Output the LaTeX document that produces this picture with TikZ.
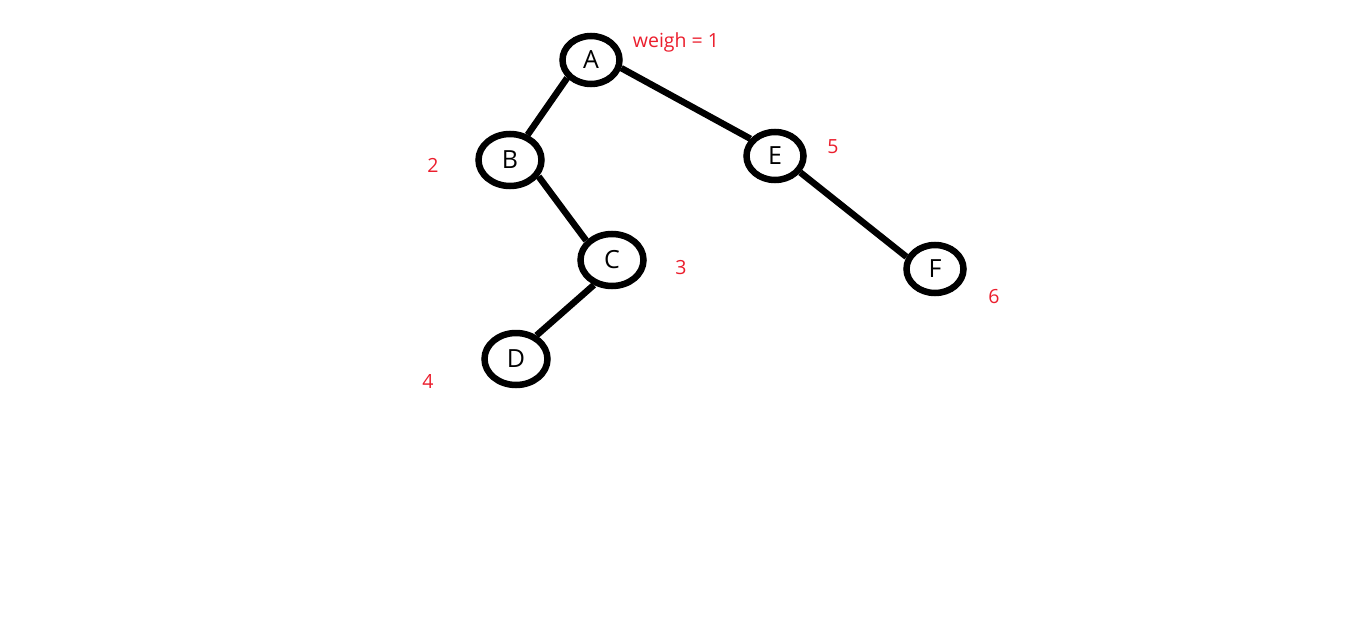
\documentclass[tikz,border=0pt]{standalone}
\usepackage{fontspec}
\setmainfont{Open Sans}
\usetikzlibrary{shapes.geometric}
\definecolor{lblred}{RGB}{235,30,45}
\tikzset{
  vert/.style={ellipse, draw=black, line width=6.5pt, fill=white, minimum width=57pt, minimum height=48pt, inner sep=0pt, font=\fontsize{25}{25}\selectfont},
  wide/.style={minimum width=63pt, minimum height=52pt},
  wlabel/.style={text=lblred, font=\fontsize{19.5}{19.5}\selectfont, inner sep=0pt},
  edge/.style={line width=6.5pt, draw=black}
}
\newcommand{\lowtext}[1]{\raisebox{-2pt}{#1}}
\begin{document}
\begin{tikzpicture}[x=1pt,y=-1pt]
\useasboundingbox (0,0) rectangle (1350,629);
\node[vert] (A) at (591,60) {\lowtext{A}};
\node[vert,wide] (B) at (510,160) {\lowtext{B}};
\node[vert,wide] (C) at (612,260) {\lowtext{C}};
\node[vert,wide] (D) at (516,359) {\lowtext{D}};
\node[vert] (E) at (775,156) {\lowtext{E}};
\node[vert] (F) at (935,269) {\lowtext{F}};
\draw[edge] (A.217) -- (B.55);
\draw[edge] (A.345) -- (E.145);
\draw[edge] (B.330) -- (C.143);
\draw[edge] (C.234) -- (D.49);
\draw[edge] (E.327) -- (F.157);
\node[wlabel] (wA) at (676,42) {weigh = 1};
\node[wlabel] (wB) at (433,165) {2};
\node[wlabel] (wC) at (681,268) {3};
\node[wlabel] (wD) at (428,381) {4};
\node[wlabel] (wE) at (833,147) {5};
\node[wlabel] (wF) at (994,297) {6};
\end{tikzpicture}
\end{document}
